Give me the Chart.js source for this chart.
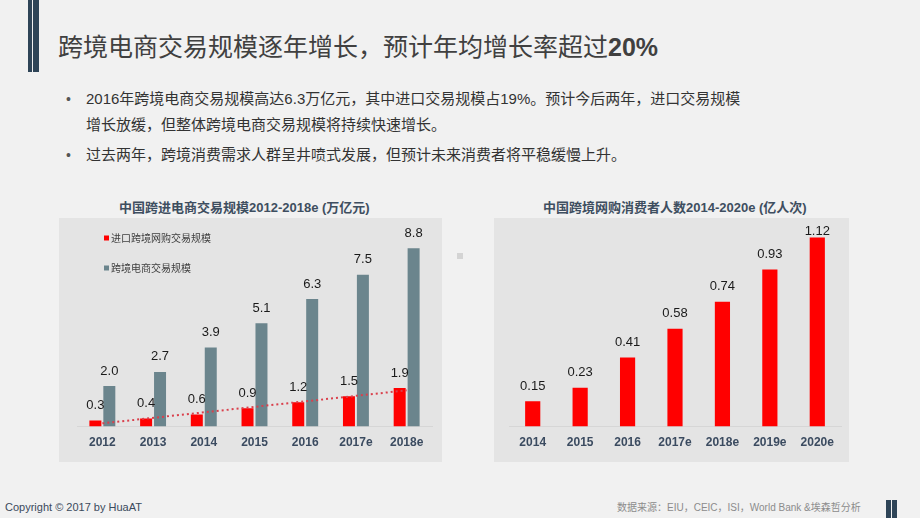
<!DOCTYPE html>
<html lang="zh-CN">
<head>
<meta charset="utf-8">
<title>跨境电商交易规模</title>
<script src="https://cdn.jsdelivr.net/npm/chart.js@4.4.1/dist/chart.umd.min.js"></script>
<style>
  html, body { margin: 0; padding: 0; }
  body {
    width: 920px; height: 518px; position: relative; overflow: hidden;
    background: #f1f1f1;
    font-family: "Liberation Sans", "Noto Sans CJK SC", sans-serif;
  }
  .faixa { position: absolute; background: #2e4457; }
  .titulo {
    position: absolute; left: 58px; top: 32px; line-height: 30px;
    font-size: 25px; color: #404040; white-space: nowrap;
  }
  .linha {
    position: absolute; left: 86px; font-size: 15px; color: #333;
    white-space: nowrap; line-height: 20px;
  }
  .ponto { position: absolute; left: 66px; font-size: 14px; color: #555; line-height: 20px; }
  .painel { position: absolute; top: 218px; height: 244px; background: #e4e4e4; }
  .subtitulo {
    position: absolute; top: 199px; line-height: 18px; font-size: 13px;
    font-weight: bold; color: #3e4e60; white-space: nowrap;
  }
  .rodape { position: absolute; white-space: nowrap; }
</style>
</head>
<body>
  <div class="faixa" style="left:28px; top:0; width:4px; height:72px"></div>
  <div class="faixa" style="left:33px; top:0; width:6px; height:72px"></div>
  <div class="titulo">跨境电商交易规模逐年增长，预计年均增长率超过<b>20%</b></div>

  <div class="ponto" style="top:89px">•</div>
  <div class="linha" style="top:89px">2016年跨境电商交易规模高达6.3万亿元，其中进口交易规模占19%。预计今后两年，进口交易规模</div>
  <div class="linha" style="top:115px">增长放缓，但整体跨境电商交易规模将持续快速增长。</div>
  <div class="ponto" style="top:145px">•</div>
  <div class="linha" style="top:145px">过去两年，跨境消费需求人群呈井喷式发展，但预计未来消费者将平稳缓慢上升。</div>

  <div class="subtitulo" style="left:119px">中国跨进电商交易规模2012-2018e (万亿元)</div>
  <div class="subtitulo" style="left:543px">中国跨境网购消费者人数2014-2020e (亿人次)</div>

  <div class="painel" style="left:59px; width:383px">
    <canvas id="graficoComercio" width="383" height="244"></canvas>
  </div>
  <div class="painel" style="left:494px; width:355px">
    <canvas id="graficoConsumidores" width="355" height="244"></canvas>
  </div>
  <div style="position:absolute; left:457px; top:253px; width:6px; height:6px; background:#d4d4d4"></div>

  <div class="rodape" style="left:5px; top:501px; font-size:11px; color:#3a4a5c">Copyright © 2017 by HuaAT</div>
  <div class="rodape" style="left:617px; top:499px; font-size:10px; color:#8c8c8c">数据来源：EIU，CEIC，ISI，World Bank &amp;埃森哲分析</div>
  <div class="faixa" style="left:886px; top:500px; width:5px; height:18px"></div>
  <div class="faixa" style="left:892px; top:500px; width:5px; height:18px"></div>

<script>
// dados do gráfico da esquerda (万亿元)
const anosComercio = ["2012", "2013", "2014", "2015", "2016", "2017e", "2018e"];
const importacao = [0.3, 0.4, 0.6, 0.9, 1.2, 1.5, 1.9];
const totalComercio = [2.0, 2.7, 3.9, 5.1, 6.3, 7.5, 8.8];
// linha de tendência pontilhada, extremos
const tendencia = [0.16, null, null, null, null, null, 1.79];

// dados do gráfico da direita (亿人次)
const anosConsumidores = ["2014", "2015", "2016", "2017e", "2018e", "2019e", "2020e"];
const consumidores = [0.15, 0.23, 0.41, 0.58, 0.74, 0.93, 1.12];

const VERMELHO = "#ff0000";
const CINZA = "#6b858d";

// Rótulos de valor acima das barras
const rotulosPlugin = {
    id: "rotulos",
    afterDatasetsDraw(chart, args, opts) {
        const ctx = chart.ctx;
        ctx.save();
        ctx.font = "13px 'Liberation Sans', Arial, sans-serif";
        ctx.fillStyle = "#1a1a1a";
        ctx.textAlign = "center";
        ctx.textBaseline = "middle";
        chart.data.datasets.forEach((ds, i) => {
            if (ds.type === "line") return;
            chart.getDatasetMeta(i).data.forEach((barra, j) => {
                let y = barra.y - 15;
                if (y < chart.chartArea.top + 7) y = chart.chartArea.top + 7;
                ctx.fillText(ds.data[j].toFixed(opts.decimais), barra.x, y);
            });
        });
        ctx.restore();
    }
};

// Legenda vertical dentro da área
const legendaPlugin = {
    id: "legenda",
    afterDraw(chart, args, opts) {
        if (!opts.mostrar) return;
        const ctx = chart.ctx;
        ctx.save();
        ctx.font = "10px 'Noto Sans CJK SC', sans-serif";
        ctx.textBaseline = "middle";
        let y = opts.y;
        chart.data.datasets.forEach(ds => {
            if (ds.type === "line") return;
            ctx.fillStyle = ds.backgroundColor;
            ctx.fillRect(opts.x, y - 2.5, 5, 5);
            ctx.fillStyle = "#404040";
            ctx.fillText(ds.label, opts.x + 7, y);
            y += 30;
        });
        ctx.restore();
    }
};

function eixoX() {
    return {
        grid: { display: false, drawTicks: false },
        border: { display: true, color: "#d6d6d6" },
        ticks: { color: "#3b4b60", font: { size: 12, weight: "bold" }, padding: 9 }
    };
}

function criarGraficoComercio() {
    const ctx = document.getElementById("graficoComercio").getContext("2d");
    new Chart(ctx, {
        type: "bar",
        data: {
            labels: anosComercio,
            datasets: [
                {
                    type: "line",
                    label: "趋势",
                    data: tendencia,
                    borderColor: "#d9404c",
                    borderWidth: 2,
                    borderDash: [2, 3],
                    pointRadius: 0,
                    spanGaps: true,
                    fill: false,
                    order: 0
                },
                {
                    label: "进口跨境网购交易规模",
                    data: importacao,
                    backgroundColor: VERMELHO,
                    barPercentage: 0.86,
                    categoryPercentage: 0.55,
                    order: 1
                },
                {
                    label: "跨境电商交易规模",
                    data: totalComercio,
                    backgroundColor: CINZA,
                    barPercentage: 0.86,
                    categoryPercentage: 0.55,
                    order: 1
                }
            ]
        },
        options: {
            responsive: false,
            animation: false,
            devicePixelRatio: 1,
            layout: { padding: { left: 18, right: 10, top: 6, bottom: 3 } },
            plugins: {
                legend: { display: false },
                tooltip: { enabled: false },
                rotulos: { decimais: 1 },
                legenda: { mostrar: true, x: 45, y: 20 }
            },
            scales: {
                x: eixoX(),
                y: { display: false, min: 0, max: 10 }
            }
        },
        plugins: [rotulosPlugin, legendaPlugin]
    });
}

function criarGraficoConsumidores() {
    const ctx = document.getElementById("graficoConsumidores").getContext("2d");
    new Chart(ctx, {
        type: "bar",
        data: {
            labels: anosConsumidores,
            datasets: [{
                label: "消费者人数",
                data: consumidores,
                backgroundColor: VERMELHO,
                barPercentage: 0.4,
                categoryPercentage: 0.8
            }]
        },
        options: {
            responsive: false,
            animation: false,
            devicePixelRatio: 1,
            layout: { padding: { left: 15, right: 8, top: 6, bottom: 3 } },
            plugins: {
                legend: { display: false },
                tooltip: { enabled: false },
                rotulos: { decimais: 2 },
                legenda: { mostrar: false }
            },
            scales: {
                x: eixoX(),
                y: { display: false, min: 0, max: 1.2 }
            }
        },
        plugins: [rotulosPlugin, legendaPlugin]
    });
}

criarGraficoComercio();
criarGraficoConsumidores();
</script>
</body>
</html>
